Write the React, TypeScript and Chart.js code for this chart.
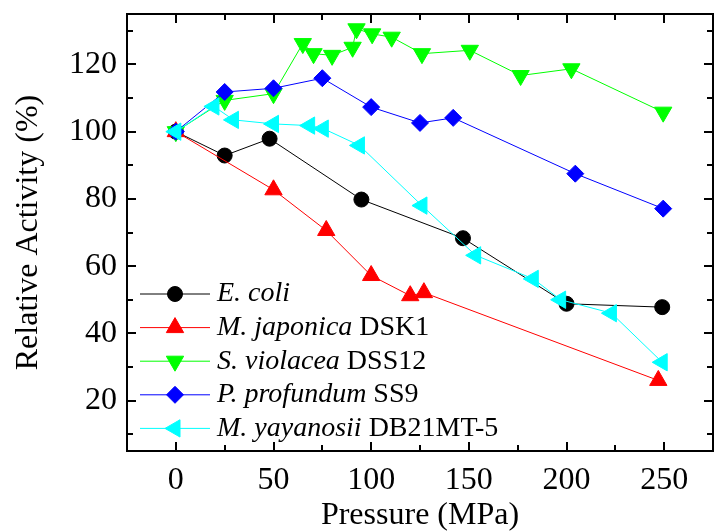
import React, { useEffect, useRef } from 'react';
import { Chart, registerables } from 'chart.js';

Chart.register(...registerables);

// ---- data ----
const ecoliP = [0, 25, 48, 95, 147, 200, 249];
const ecoliA = [100, 92.9, 97.9, 79.8, 68.3, 48.8, 47.8];

const japonicaP = [0, 50, 77, 100, 120, 127, 247];
const japonicaA = [100, 82.7, 70.6, 57.2, 51.2, 52.1, 26];

const violaceaP = [0, 25, 50, 65, 70.5, 80, 90.5, 92.5, 100.5, 110.5, 126, 150.5, 176.5, 202.5, 249.5];
const violaceaA = [100, 109.3, 111.3, 126.2, 123.2, 122.7, 125.1, 130.6, 129.1, 128.1, 123.2, 124.2, 116.7, 118.7, 105.8];

const profundumP = [0, 25, 50, 75, 100, 125, 142, 204.5, 249.5];
const profundumA = [100, 111.8, 112.9, 115.9, 107.3, 102.6, 104.1, 87.5, 77.1];

const yayanosiiP = [0, 19.5, 29.5, 50, 68.5, 75.5, 94, 126, 153.5, 183, 197, 223, 249];
const yayanosiiA = [100, 107.5, 103.5, 102.3, 101.8, 100.9, 95.9, 78.0, 63.2, 56.2, 50.0, 46.0, 31.4];

const legendItalic = ['E. coli', 'M. japonica', 'S. violacea', 'P. profundum', 'M. yayanosii'];
const legendSuffix = ['', ' DSK1', ' DSS12', ' SS9', ' DB21MT-5'];

const xTicks = [0, 50, 100, 150, 200, 250];
const xMinorTicks = [25, 75, 125, 175, 225];
const yTicks = [20, 40, 60, 80, 100, 120];
const yMinorTicks = [10, 30, 50, 70, 90, 110, 130];

const xTitle = 'Pressure (MPa)';
const yTitle = 'Relative Activity (%)';

const FONT = "'Liberation Serif'";

const seriesStyles = [
  { color: '#000000', pointStyle: 'circle', rotation: 0, radius: 7.5 },
  { color: '#ff0000', pointStyle: 'triangle', rotation: 0, radius: 10 },
  { color: '#00ff00', pointStyle: 'triangle', rotation: 180, radius: 10 },
  { color: '#0000ff', pointStyle: 'rectRot', rotation: 0, radius: 8.5 },
  { color: '#00ffff', pointStyle: 'triangle', rotation: 270, radius: 10 },
];

const seriesX = [ecoliP, japonicaP, violaceaP, profundumP, yayanosiiP];
const seriesY = [ecoliA, japonicaA, violaceaA, profundumA, yayanosiiA];

function drawMarker(ctx: CanvasRenderingContext2D, style: string, rotationDeg: number, r: number, x: number, y: number) {
  ctx.beginPath();
  if (style === 'circle') {
    ctx.arc(x, y, r, 0, Math.PI * 2);
  } else if (style === 'triangle') {
    let rad = (rotationDeg * Math.PI) / 180;
    for (let k = 0; k < 3; k++) {
      const px = x + Math.sin(rad) * r;
      const py = y - Math.cos(rad) * r;
      if (k === 0) ctx.moveTo(px, py); else ctx.lineTo(px, py);
      rad += (2 * Math.PI) / 3;
    }
  } else {
    ctx.moveTo(x, y - r);
    ctx.lineTo(x + r, y);
    ctx.lineTo(x, y + r);
    ctx.lineTo(x - r, y);
  }
  ctx.closePath();
  ctx.fill();
  ctx.stroke();
}

const framePlugin = {
  id: 'frameTicks',
  afterDraw(chart: any) {
    const { ctx, chartArea, scales } = chart;
    const { left, right, top, bottom } = chartArea;
    const xs = scales.x;
    const ys = scales.y;
    ctx.save();
    ctx.strokeStyle = '#000';
    ctx.lineWidth = 2;
    ctx.strokeRect(left, top, right - left, bottom - top);
    const major = 9;
    const minor = 6;
    ctx.beginPath();
    xTicks.forEach((v) => {
      const px = Math.round(xs.getPixelForValue(v));
      ctx.moveTo(px, bottom); ctx.lineTo(px, bottom - major);
      ctx.moveTo(px, top); ctx.lineTo(px, top + major);
    });
    xMinorTicks.forEach((v) => {
      const px = Math.round(xs.getPixelForValue(v));
      ctx.moveTo(px, bottom); ctx.lineTo(px, bottom - minor);
      ctx.moveTo(px, top); ctx.lineTo(px, top + minor);
    });
    yTicks.forEach((v) => {
      const py = Math.round(ys.getPixelForValue(v));
      ctx.moveTo(left, py); ctx.lineTo(left + major, py);
      ctx.moveTo(right, py); ctx.lineTo(right - major, py);
    });
    yMinorTicks.forEach((v) => {
      const py = Math.round(ys.getPixelForValue(v));
      ctx.moveTo(left, py); ctx.lineTo(left + minor, py);
      ctx.moveTo(right, py); ctx.lineTo(right - minor, py);
    });
    ctx.stroke();

    // legend
    const lx0 = 140, lx1 = 210, mx = 175, tx = 217;
    const rowY0 = 294, rowStep = 33.6;
    ctx.textBaseline = 'middle';
    ctx.textAlign = 'left';
    legendItalic.forEach((lab, i) => {
      const st = seriesStyles[i];
      const y = rowY0 + i * rowStep;
      ctx.strokeStyle = st.color;
      ctx.lineWidth = 1;
      ctx.beginPath();
      ctx.moveTo(lx0, y); ctx.lineTo(lx1, y);
      ctx.stroke();
      ctx.fillStyle = st.color;
      drawMarker(ctx, st.pointStyle, st.rotation, st.radius, mx, y);
      ctx.fillStyle = '#000';
      ctx.font = 'italic 28px ' + FONT;
      ctx.fillText(lab, tx, y);
      const w = ctx.measureText(lab).width;
      ctx.font = '28px ' + FONT;
      ctx.fillText(legendSuffix[i], tx + w, y);
    });
    ctx.restore();
  },
};

const zeroPad = (s: any) => {
  s.paddingTop = 0;
  s.paddingBottom = 0;
  s.paddingLeft = 0;
  s.paddingRight = 0;
};

export default function App() {
  const ref = useRef<HTMLCanvasElement>(null);
  useEffect(() => {
    if (!ref.current) return;
    document.body.style.margin = '0';
    const datasets = seriesStyles.map((st, i) => ({
      label: legendItalic[i] + legendSuffix[i],
      data: seriesX[i].map((x, j) => ({ x, y: seriesY[i][j] })),
      borderColor: st.color,
      backgroundColor: st.color,
      borderWidth: 1,
      pointStyle: st.pointStyle as any,
      rotation: st.rotation,
      pointRadius: st.radius,
      pointBorderWidth: 1,
      pointBackgroundColor: st.color,
      pointBorderColor: st.color,
      tension: 0,
      order: 5 - i,
      showLine: true,
    }));
    const chart = new Chart(ref.current, {
      type: 'scatter',
      data: { datasets },
      plugins: [framePlugin],
      options: {
        animation: false,
        responsive: false,
        layout: { padding: { left: 0, top: 14, right: 4, bottom: 0 } },
        plugins: { legend: { display: false }, tooltip: { enabled: false } },
        scales: {
          x: {
            type: 'linear',
            min: -25,
            max: 275,
            afterBuildTicks: (s: any) => { s.ticks = xTicks.map((v) => ({ value: v })); },
            afterFit: (s: any) => { s.height = 81; zeroPad(s); },
            grid: { display: false, drawTicks: false },
            border: { display: false },
            ticks: { color: '#000', font: { family: FONT, size: 32 }, padding: 10, maxRotation: 0 },
            title: { display: true, text: xTitle, color: '#000', font: { family: FONT, size: 32, lineHeight: 1 }, padding: 0 },
          },
          y: {
            type: 'linear',
            min: 5,
            max: 135,
            afterBuildTicks: (s: any) => { s.ticks = yTicks.map((v) => ({ value: v })); },
            afterFit: (s: any) => { s.width = 127; zeroPad(s); },
            grid: { display: false, drawTicks: false },
            border: { display: false },
            ticks: { color: '#000', font: { family: FONT, size: 32 }, padding: 10 },
            title: { display: true, text: yTitle, color: '#000', font: { family: FONT, size: 32, lineHeight: 1 }, padding: { top: 13, bottom: 0 } },
          },
        },
      },
    });
    return () => chart.destroy();
  }, []);
  return (
    <div>
      <canvas ref={ref} width={724} height={532} />
    </div>
  );
}
